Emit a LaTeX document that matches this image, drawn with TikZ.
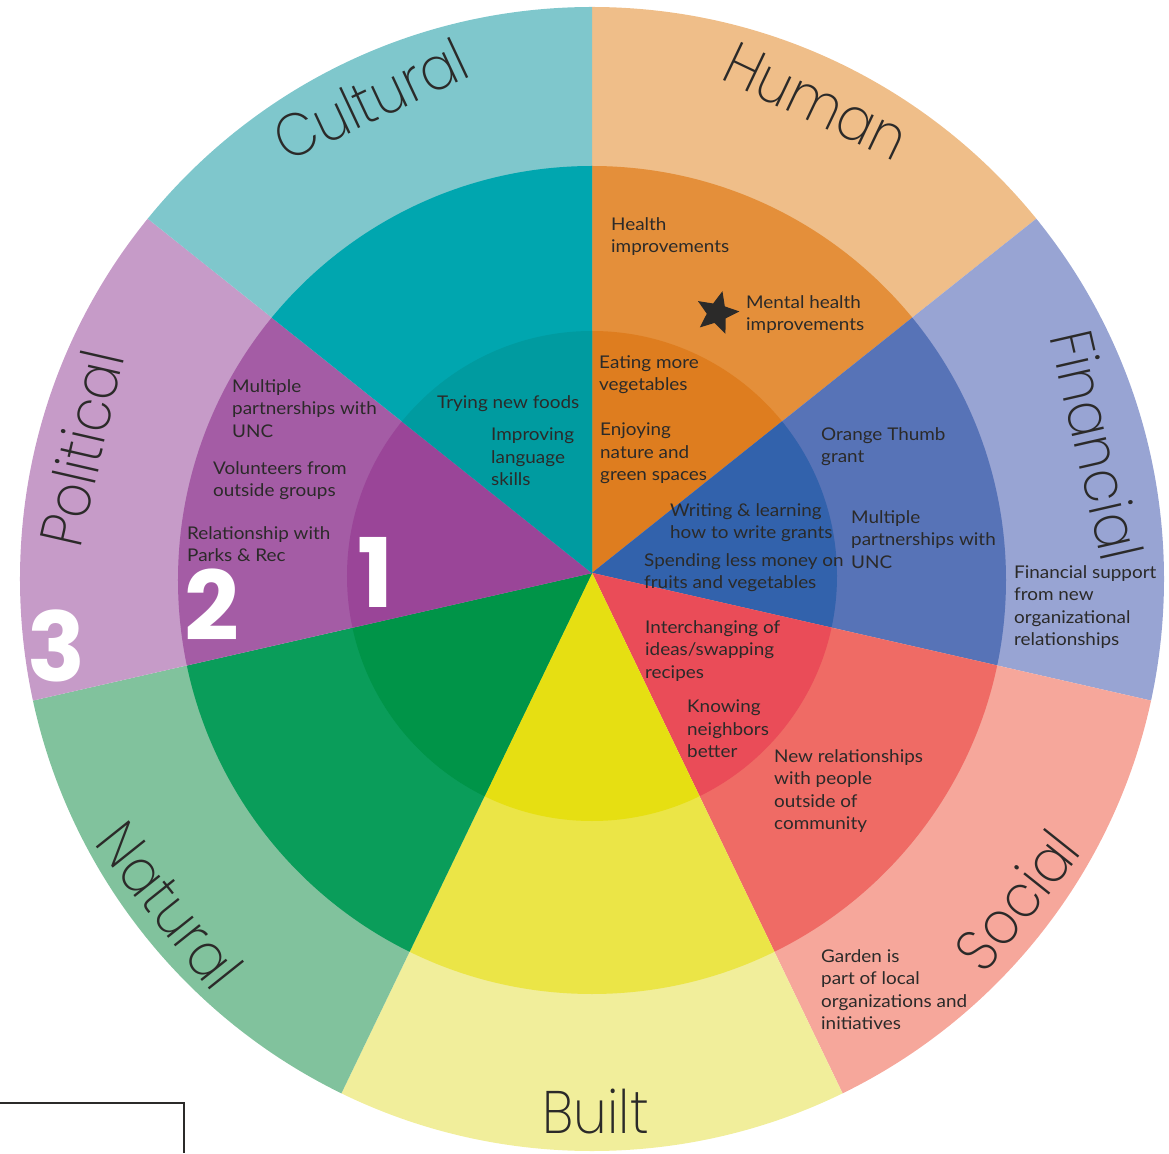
\documentclass[tikz,border=0pt]{standalone}
\usepackage{fontspec}
\usetikzlibrary{shapes.geometric}
\newfontfamily\bodyfont{Lato}[FakeStretch=1.08]
\newfontfamily\ringfont{Poppins ExtraLight}[FakeStretch=0.9]
\newfontfamily\numfont{Poppins}

% ring colours, outer / middle / inner
\definecolor{culturalOut}{HTML}{7FC7CC}
\definecolor{culturalMid}{HTML}{00A6AF}
\definecolor{culturalIn}{HTML}{009BA0}
\definecolor{humanOut}{HTML}{EFBE89}
\definecolor{humanMid}{HTML}{E48F3A}
\definecolor{humanIn}{HTML}{DE7D1F}
\definecolor{financialOut}{HTML}{98A4D3}
\definecolor{financialMid}{HTML}{5773B7}
\definecolor{financialIn}{HTML}{3262AC}
\definecolor{socialOut}{HTML}{F6A79B}
\definecolor{socialMid}{HTML}{EF6B65}
\definecolor{socialIn}{HTML}{EA4C58}
\definecolor{builtOut}{HTML}{F1EE9B}
\definecolor{builtMid}{HTML}{EBE547}
\definecolor{builtIn}{HTML}{E6DF12}
\definecolor{naturalOut}{HTML}{81C29D}
\definecolor{naturalMid}{HTML}{0A9D5A}
\definecolor{naturalIn}{HTML}{009448}
\definecolor{politicalOut}{HTML}{C69BC8}
\definecolor{politicalMid}{HTML}{A45CA5}
\definecolor{politicalIn}{HTML}{9A4598}
\definecolor{txtgray}{HTML}{2B2A29}

\tikzset{
  lbl/.style={anchor=north west, align=left, inner sep=0pt, text=txtgray,
    font=\bodyfont\fontsize{17.5}{22.5}\selectfont},
  ringlbl/.style={inner sep=0pt, text=txtgray,
    font=\ringfont\fontsize{60}{60}\selectfont},
  numlbl/.style={inner sep=0pt, text=white,
    font=\numfont\bfseries\fontsize{96}{96}\selectfont}
}

\begin{document}
\begin{tikzpicture}[x=1pt,y=1pt]
    \useasboundingbox (-592,-580) rectangle (577,573);
    % Wedges: the three rings sit a little below the common apex
    \foreach \a/\b/\cout/\cmid/\cin in {
        38.571/90/humanOut/humanMid/humanIn,
        -12.857/38.571/financialOut/financialMid/financialIn,
        -64.286/-12.857/socialOut/socialMid/socialIn,
        -115.714/-64.286/builtOut/builtMid/builtIn,
        -167.143/-115.714/naturalOut/naturalMid/naturalIn,
        141.429/192.857/politicalOut/politicalMid/politicalIn,
        90/141.429/culturalOut/culturalMid/culturalIn} {
      \begin{scope}
        \clip (0,0) -- (\a:900) -- ({(\a+\b)/2}:900) -- (\b:900) -- cycle;
        \fill[\cout] (0,-6) circle[radius=572];
        \fill[\cmid] (0,-7) circle[radius=414];
        \fill[\cin] (0,-3) circle[radius=245];
      \end{scope}
    }

    % Ring names
    \node[ringlbl, rotate=25.1] (cultural) at (115.1:523) {Cultural};
    \node[ringlbl, rotate=-25.4] (human) at (64.6:522) {Human};
    \node[ringlbl, rotate=-77.1] (financial) at (14.2:521) {Financial};
    \node[ringlbl, rotate=51.4] (social) at (-37.6:536) {Social};
    \node[ringlbl] (built) at (-89.6:539) {Built};
    \node[ringlbl, rotate=-51.4] (natural) at (218.2:537) {Natural};
    \node[ringlbl, rotate=77.1] (political) at (166.3:526) {Political};

    % Human
    \node[lbl] (health) at (19,356) {Health\\improvements};
    \node[lbl] (mental) at (154,278) {Mental health\\improvements};
    \node[star, star points=5, star point ratio=2.2, minimum size=45pt, inner sep=0pt,
      fill=txtgray, rotate=-14] (star) at (125,260) {};
    \node[lbl] (eating) at (7,218) {Eating more\\vegetables};
    \node[lbl] (enjoying) at (8,150) {Enjoying\\nature and\\green spaces};
    % Cultural
    \node[lbl] (trying) at (-155,178) {Trying new foods};
    \node[lbl] (language) at (-101,145) {Improving\\language\\skills};
    % Financial
    \node[lbl] (thumb) at (229,146) {Orange Thumb\\grant};
    \node[lbl] (writing) at (78,70) {Writing \& learning\\how to write grants};
    \node[lbl] (spending) at (52,20) {Spending less money on\\fruits and vegetables};
    \node[lbl] (uncfin) at (259,63) {Multiple\\partnerships with\\UNC};
    \node[lbl] (support) at (422,8) {Financial support\\from new\\organizational\\relationships};
    % Political
    \node[lbl] (uncpol) at (-360,194) {Multiple\\partnerships with\\UNC};
    \node[lbl] (volunteers) at (-379,112) {Volunteers from\\outside groups};
    \node[lbl] (parks) at (-405,47) {Relationship with\\Parks \& Rec};
    % Social
    \node[lbl] (ideas) at (53,-47) {Interchanging of\\ideas/swapping\\recipes};
    \node[lbl] (neighbors) at (95,-127) {Knowing\\neighbors\\better};
    \node[lbl] (relations) at (182,-176) {New relationships\\with people\\outside of\\community};
    \node[lbl] (garden) at (229,-376) {Garden is\\part of local\\organizations and\\initiatives};

    % Ring numbers
    \node[numlbl] (one) at (-216,1) {1};
    \node[numlbl] (two) at (-380,-32) {2};
    \node[numlbl] (three) at (-535,-73) {3};

    % Frame corner
    \draw[line width=2pt, txtgray] (-592,-530) -- (-408,-530) -- (-408,-580);
\end{tikzpicture}
\end{document}
